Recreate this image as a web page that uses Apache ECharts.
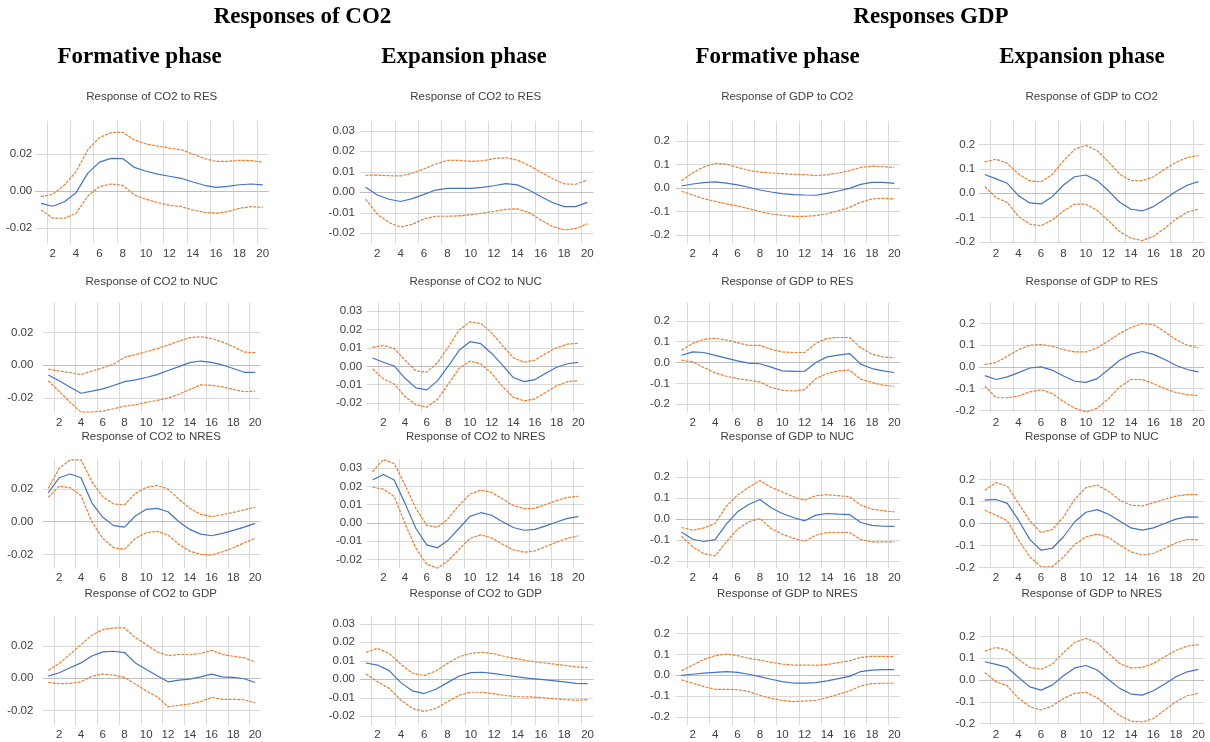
<!DOCTYPE html>
<html><head><meta charset="utf-8">
<script src="https://cdn.jsdelivr.net/npm/echarts@6/dist/echarts.min.js"></script>
<style>html,body{margin:0;padding:0;background:#fff}#c{width:1210px;height:742px}</style>
</head><body><div id="c"></div>
<script>
// ---------- DATA ----------
const periods = [1,2,3,4,5,6,7,8,9,10,11,12,13,14,15,16,17,18,19,20];
const xTickLabels = [2,4,6,8,10,12,14,16,18,20];
const co2TicksForm = [-0.02, 0, 0.02];
const co2TicksExp = [-0.02, -0.01, 0, 0.01, 0.02, 0.03];
const gdpTicks = [-0.2, -0.1, 0, 0.1, 0.2];

const headerTitles = ['Responses of CO2', 'Responses GDP'];
const phaseTitles = ['Formative phase', 'Expansion phase', 'Formative phase', 'Expansion phase'];

// Responses of CO2 - Formative phase
const co2Form_RES_mid = [-0.0067,-0.0083,-0.0058,-0.0009,0.0096,0.0157,0.0177,0.0176,0.0128,0.0107,0.0092,0.0080,0.0069,0.0049,0.0031,0.0020,0.0025,0.0034,0.0038,0.0033];
const co2Form_RES_hi  = [-0.0031,-0.0018,0.0033,0.0105,0.0223,0.0290,0.0317,0.0319,0.0277,0.0255,0.0244,0.0233,0.0224,0.0201,0.0176,0.0161,0.0161,0.0167,0.0165,0.0156];
const co2Form_RES_lo  = [-0.0103,-0.0147,-0.0148,-0.0121,-0.0027,0.0024,0.0038,0.0031,-0.0022,-0.0045,-0.0063,-0.0078,-0.0085,-0.0103,-0.0116,-0.0121,-0.0112,-0.0094,-0.0085,-0.0089];

const co2Form_NUC_mid = [-0.0059,-0.0095,-0.0134,-0.0171,-0.0158,-0.0144,-0.0124,-0.0100,-0.0089,-0.0075,-0.0057,-0.0032,-0.0008,0.0016,0.0026,0.0018,0.0002,-0.0020,-0.0043,-0.0043];
const co2Form_NUC_hi  = [-0.0024,-0.0035,-0.0045,-0.0057,-0.0035,-0.0016,0.0006,0.0049,0.0065,0.0083,0.0102,0.0124,0.0148,0.0169,0.0175,0.0164,0.0142,0.0114,0.0081,0.0077];
const co2Form_NUC_lo  = [-0.0095,-0.0160,-0.0227,-0.0286,-0.0286,-0.0280,-0.0266,-0.0250,-0.0242,-0.0227,-0.0215,-0.0201,-0.0177,-0.0148,-0.0120,-0.0122,-0.0132,-0.0148,-0.0162,-0.0158];

const co2Form_NRES_mid = [0.0178,0.0269,0.0292,0.0269,0.0116,0.0027,-0.0024,-0.0033,0.0035,0.0076,0.0082,0.0061,0.0000,-0.0047,-0.0076,-0.0086,-0.0071,-0.0053,-0.0033,-0.0010];
const co2Form_NRES_hi  = [0.0204,0.0327,0.0378,0.0378,0.0245,0.0153,0.0108,0.0104,0.0173,0.0210,0.0222,0.0200,0.0137,0.0082,0.0045,0.0031,0.0043,0.0057,0.0073,0.0088];
const co2Form_NRES_lo  = [0.0149,0.0218,0.0208,0.0159,0.0000,-0.0102,-0.0159,-0.0169,-0.0102,-0.0067,-0.0059,-0.0082,-0.0139,-0.0180,-0.0200,-0.0204,-0.0184,-0.0159,-0.0129,-0.0102];

const co2Form_GDP_mid = [0.0012,0.0033,0.0064,0.0094,0.0137,0.0162,0.0166,0.0158,0.0094,0.0053,0.0014,-0.0023,-0.0012,-0.0006,0.0008,0.0025,0.0008,0.0004,-0.0004,-0.0027];
const co2Form_GDP_hi  = [0.0049,0.0090,0.0148,0.0207,0.0265,0.0300,0.0310,0.0310,0.0250,0.0207,0.0162,0.0139,0.0146,0.0146,0.0152,0.0172,0.0146,0.0135,0.0125,0.0100];
const co2Form_GDP_lo  = [-0.0027,-0.0035,-0.0033,-0.0023,0.0012,0.0025,0.0018,0.0004,-0.0037,-0.0080,-0.0115,-0.0178,-0.0168,-0.0160,-0.0146,-0.0119,-0.0131,-0.0131,-0.0135,-0.0152];

// Responses of CO2 - Expansion phase
const co2Exp_RES_mid = [0.0024,-0.0013,-0.0034,-0.0045,-0.0031,-0.0010,0.0011,0.0019,0.0019,0.0019,0.0024,0.0032,0.0042,0.0036,0.0011,-0.0021,-0.0050,-0.0070,-0.0070,-0.0049];
const co2Exp_RES_hi  = [0.0083,0.0084,0.0081,0.0080,0.0093,0.0114,0.0138,0.0156,0.0156,0.0151,0.0154,0.0164,0.0169,0.0157,0.0131,0.0099,0.0067,0.0041,0.0039,0.0060];
const co2Exp_RES_lo  = [-0.0034,-0.0107,-0.0148,-0.0170,-0.0156,-0.0130,-0.0117,-0.0117,-0.0115,-0.0110,-0.0102,-0.0093,-0.0083,-0.0081,-0.0099,-0.0135,-0.0167,-0.0183,-0.0177,-0.0154];

const co2Exp_NUC_mid = [0.0045,0.0022,0.0002,-0.0065,-0.0117,-0.0128,-0.0079,0.0002,0.0087,0.0134,0.0123,0.0070,0.0007,-0.0061,-0.0083,-0.0072,-0.0038,-0.0005,0.0014,0.0022];
const co2Exp_NUC_hi  = [0.0103,0.0114,0.0097,0.0034,-0.0025,-0.0032,0.0020,0.0106,0.0197,0.0242,0.0233,0.0182,0.0112,0.0047,0.0022,0.0034,0.0070,0.0101,0.0121,0.0125];
const co2Exp_NUC_lo  = [-0.0013,-0.0069,-0.0096,-0.0164,-0.0209,-0.0222,-0.0179,-0.0096,-0.0011,0.0029,0.0013,-0.0038,-0.0110,-0.0168,-0.0188,-0.0177,-0.0141,-0.0106,-0.0083,-0.0078];

const co2Exp_NRES_mid = [0.0235,0.0265,0.0235,0.0107,-0.0029,-0.0120,-0.0136,-0.0093,-0.0029,0.0036,0.0056,0.0042,0.0007,-0.0025,-0.0040,-0.0035,-0.0016,0.0005,0.0025,0.0035];
const co2Exp_NRES_hi  = [0.0280,0.0347,0.0325,0.0207,0.0080,-0.0013,-0.0024,0.0025,0.0098,0.0158,0.0180,0.0167,0.0131,0.0095,0.0078,0.0080,0.0102,0.0122,0.0140,0.0145];
const co2Exp_NRES_lo  = [0.0195,0.0185,0.0144,-0.0002,-0.0138,-0.0225,-0.0247,-0.0205,-0.0144,-0.0084,-0.0065,-0.0082,-0.0116,-0.0147,-0.0160,-0.0153,-0.0129,-0.0105,-0.0084,-0.0071];

const co2Exp_GDP_mid = [0.0088,0.0077,0.0047,-0.0018,-0.0063,-0.0077,-0.0054,-0.0018,0.0018,0.0036,0.0038,0.0031,0.0022,0.0013,0.0005,0.0000,-0.0007,-0.0014,-0.0022,-0.0023];
const co2Exp_GDP_hi  = [0.0146,0.0167,0.0140,0.0081,0.0032,0.0020,0.0045,0.0086,0.0122,0.0140,0.0146,0.0137,0.0122,0.0110,0.0099,0.0090,0.0083,0.0076,0.0067,0.0063];
const co2Exp_GDP_lo  = [0.0029,-0.0013,-0.0049,-0.0112,-0.0158,-0.0174,-0.0158,-0.0121,-0.0086,-0.0070,-0.0070,-0.0079,-0.0088,-0.0094,-0.0095,-0.0099,-0.0104,-0.0110,-0.0113,-0.0110];

// Responses of GDP - Formative phase
const gdpForm_CO2_mid = [0.0085,0.017,0.023,0.026,0.021,0.013,0.003,-0.0085,-0.017,-0.024,-0.028,-0.030,-0.031,-0.023,-0.013,-0.0014,0.0157,0.024,0.024,0.020];
const gdpForm_CO2_hi  = [0.031,0.065,0.090,0.105,0.102,0.088,0.075,0.068,0.064,0.061,0.058,0.057,0.053,0.056,0.064,0.074,0.088,0.093,0.091,0.088];
const gdpForm_CO2_lo  = [-0.014,-0.030,-0.046,-0.057,-0.068,-0.077,-0.088,-0.101,-0.111,-0.117,-0.121,-0.121,-0.118,-0.110,-0.097,-0.083,-0.061,-0.047,-0.044,-0.047];

const gdpForm_RES_mid = [0.035,0.051,0.048,0.034,0.021,0.008,-0.003,-0.006,-0.022,-0.040,-0.043,-0.042,0.000,0.027,0.035,0.043,-0.008,-0.029,-0.040,-0.048];
const gdpForm_RES_hi  = [0.059,0.092,0.111,0.116,0.108,0.095,0.082,0.082,0.063,0.051,0.048,0.048,0.092,0.116,0.120,0.120,0.071,0.040,0.027,0.022];
const gdpForm_RES_lo  = [0.011,0.003,-0.024,-0.050,-0.066,-0.077,-0.085,-0.093,-0.120,-0.133,-0.137,-0.130,-0.077,-0.053,-0.040,-0.037,-0.080,-0.096,-0.109,-0.114];

const gdpForm_NUC_mid = [-0.061,-0.096,-0.107,-0.098,-0.024,0.035,0.070,0.094,0.054,0.027,0.008,-0.008,0.019,0.027,0.024,0.022,-0.016,-0.030,-0.034,-0.035];
const gdpForm_NUC_hi  = [-0.040,-0.053,-0.042,-0.021,0.062,0.115,0.152,0.184,0.152,0.130,0.107,0.090,0.112,0.117,0.112,0.107,0.067,0.048,0.040,0.035];
const gdpForm_NUC_lo  = [-0.082,-0.133,-0.165,-0.176,-0.109,-0.048,-0.013,0.003,-0.045,-0.072,-0.091,-0.106,-0.077,-0.064,-0.064,-0.064,-0.098,-0.109,-0.109,-0.109];

const gdpForm_NRES_mid = [0.000,0.005,0.010,0.014,0.018,0.014,0.005,-0.006,-0.019,-0.030,-0.037,-0.037,-0.035,-0.027,-0.016,-0.005,0.018,0.025,0.027,0.027];
const gdpForm_NRES_hi  = [0.022,0.049,0.076,0.094,0.102,0.094,0.081,0.073,0.062,0.054,0.049,0.049,0.048,0.051,0.061,0.069,0.086,0.091,0.091,0.089];
const gdpForm_NRES_lo  = [-0.022,-0.038,-0.054,-0.067,-0.067,-0.069,-0.078,-0.096,-0.110,-0.121,-0.126,-0.123,-0.120,-0.107,-0.091,-0.075,-0.051,-0.040,-0.038,-0.038];

// Responses of GDP - Expansion phase
const gdpExp_CO2_mid = [0.077,0.059,0.041,-0.010,-0.040,-0.044,-0.014,0.034,0.068,0.075,0.052,0.010,-0.037,-0.066,-0.073,-0.055,-0.025,0.007,0.033,0.048];
const gdpExp_CO2_hi  = [0.129,0.140,0.123,0.079,0.051,0.047,0.077,0.133,0.181,0.197,0.175,0.129,0.078,0.052,0.051,0.068,0.099,0.127,0.147,0.156];
const gdpExp_CO2_lo  = [0.027,-0.018,-0.038,-0.096,-0.127,-0.134,-0.110,-0.073,-0.045,-0.045,-0.071,-0.114,-0.158,-0.185,-0.195,-0.178,-0.144,-0.107,-0.078,-0.066];

const gdpExp_RES_mid = [-0.040,-0.058,-0.046,-0.026,-0.005,0.000,-0.015,-0.042,-0.066,-0.071,-0.054,-0.012,0.031,0.058,0.071,0.058,0.034,0.008,-0.012,-0.023];
const gdpExp_RES_hi  = [0.011,0.020,0.049,0.080,0.100,0.103,0.095,0.080,0.069,0.069,0.088,0.120,0.154,0.182,0.200,0.195,0.162,0.126,0.100,0.088];
const gdpExp_RES_lo  = [-0.089,-0.142,-0.142,-0.134,-0.115,-0.105,-0.123,-0.160,-0.190,-0.208,-0.190,-0.146,-0.092,-0.058,-0.058,-0.077,-0.100,-0.118,-0.128,-0.132];

const gdpExp_NUC_mid = [0.106,0.109,0.091,0.015,-0.072,-0.121,-0.112,-0.060,0.008,0.051,0.063,0.042,0.011,-0.020,-0.030,-0.020,0.000,0.020,0.030,0.029];
const gdpExp_NUC_hi  = [0.151,0.186,0.169,0.091,0.012,-0.041,-0.027,0.030,0.110,0.163,0.174,0.146,0.106,0.083,0.080,0.094,0.110,0.124,0.131,0.131];
const gdpExp_NUC_lo  = [0.060,0.038,0.012,-0.075,-0.151,-0.196,-0.196,-0.151,-0.095,-0.060,-0.048,-0.063,-0.098,-0.128,-0.143,-0.136,-0.113,-0.088,-0.072,-0.074];

const gdpExp_NRES_mid = [0.084,0.072,0.058,0.012,-0.031,-0.046,-0.023,0.020,0.056,0.067,0.046,0.003,-0.038,-0.064,-0.069,-0.049,-0.018,0.015,0.038,0.049];
const gdpExp_NRES_hi  = [0.133,0.150,0.137,0.095,0.058,0.049,0.073,0.127,0.173,0.191,0.171,0.122,0.076,0.056,0.058,0.076,0.107,0.137,0.156,0.163];
const gdpExp_NRES_lo  = [0.035,-0.008,-0.026,-0.084,-0.122,-0.137,-0.119,-0.084,-0.061,-0.056,-0.081,-0.122,-0.163,-0.188,-0.192,-0.176,-0.137,-0.099,-0.072,-0.061];

// ---------- PANELS (data + layout) ----------
const BLUE = '#4472C4', ORANGE = '#ED7D31', GRID = '#D9D9D9', ZERO = '#BFBFBF', TXT = '#404040';
const FONT = '"Liberation Sans", Arial, sans-serif';

const panels = [
  // column 1
  {t:'Response of CO2 to RES',  m:co2Form_RES_mid,  h:co2Form_RES_hi,  l:co2Form_RES_lo,  ticks:co2TicksForm, dec:2, g:[35.2,121,233.4,122.5], y:[-0.0285,0.038], lm:3, tx:151.7, ty:96.7},
  {t:'Response of CO2 to NUC',  m:co2Form_NUC_mid,  h:co2Form_NUC_hi,  l:co2Form_NUC_lo,  ticks:co2TicksForm, dec:2, g:[42.9,302.7,217.6,109.8], y:[-0.0289,0.0383], lm:9.5, tx:151.7, ty:281.7},
  {t:'Response of CO2 to NRES', m:co2Form_NRES_mid, h:co2Form_NRES_hi, l:co2Form_NRES_lo, ticks:co2TicksForm, dec:2, g:[42.9,459.3,217.6,109], y:[-0.0285,0.0382], lm:9.5, tx:151.2, ty:436.7},
  {t:'Response of CO2 to GDP',  m:co2Form_GDP_mid,  h:co2Form_GDP_hi,  l:co2Form_GDP_lo,  ticks:co2TicksForm, dec:2, g:[42.9,616,217.6,109], y:[-0.029,0.0384], lm:9.5, tx:150.7, ty:594},
  // column 2
  {t:'Response of CO2 to RES',  m:co2Exp_RES_mid,  h:co2Exp_RES_hi,  l:co2Exp_RES_lo,  ticks:co2TicksExp, dec:2, g:[359.8,121,233.4,122.5], y:[-0.025,0.0348], lm:5, tx:475.7, ty:96.7},
  {t:'Response of CO2 to NUC',  m:co2Exp_NUC_mid,  h:co2Exp_NUC_hi,  l:co2Exp_NUC_lo,  ticks:co2TicksExp, dec:2, g:[367.1,302.7,216.6,109.8], y:[-0.0251,0.0346], lm:5, tx:475.7, ty:281.7},
  {t:'Response of CO2 to NRES', m:co2Exp_NRES_mid, h:co2Exp_NRES_hi, l:co2Exp_NRES_lo, ticks:co2TicksExp, dec:2, g:[367.1,459.3,216.6,109], y:[-0.0248,0.0348], lm:5, tx:475.7, ty:436.7},
  {t:'Response of CO2 to GDP',  m:co2Exp_GDP_mid,  h:co2Exp_GDP_hi,  l:co2Exp_GDP_lo,  ticks:co2TicksExp, dec:2, g:[360,616,233.4,109], y:[-0.0247,0.0342], lm:5, tx:475.7, ty:594},
  // column 3
  {t:'Response of GDP to CO2',  m:gdpForm_CO2_mid,  h:gdpForm_CO2_hi,  l:gdpForm_CO2_lo,  ticks:gdpTicks, dec:1, g:[675.9,121,224,122.5], y:[-0.237,0.286], lm:6, tx:787.3, ty:96.7},
  {t:'Response of GDP to RES',  m:gdpForm_RES_mid,  h:gdpForm_RES_hi,  l:gdpForm_RES_lo,  ticks:gdpTicks, dec:1, g:[675.9,302.7,224,109.8], y:[-0.24,0.287], lm:6, tx:787.3, ty:281.7},
  {t:'Response of GDP to NUC',  m:gdpForm_NUC_mid,  h:gdpForm_NUC_hi,  l:gdpForm_NUC_lo,  ticks:gdpTicks, dec:1, g:[675.9,459.3,224,109], y:[-0.235,0.286], lm:6, tx:787.3, ty:436.7},
  {t:'Response of GDP to NRES', m:gdpForm_NRES_mid, h:gdpForm_NRES_hi, l:gdpForm_NRES_lo, ticks:gdpTicks, dec:1, g:[675.9,616,224,109], y:[-0.238,0.284], lm:6, tx:787.3, ty:594},
  // column 4
  {t:'Response of GDP to CO2',  m:gdpExp_CO2_mid,  h:gdpExp_CO2_hi,  l:gdpExp_CO2_lo,  ticks:gdpTicks, dec:1, g:[979.2,121,224.8,122.5], y:[-0.207,0.2975], lm:4, tx:1091.7, ty:96.7},
  {t:'Response of GDP to RES',  m:gdpExp_RES_mid,  h:gdpExp_RES_hi,  l:gdpExp_RES_lo,  ticks:gdpTicks, dec:1, g:[979.2,302.7,224.8,109.8], y:[-0.21,0.296], lm:4, tx:1091.7, ty:281.7},
  {t:'Response of GDP to NUC',  m:gdpExp_NUC_mid,  h:gdpExp_NUC_hi,  l:gdpExp_NUC_lo,  ticks:gdpTicks, dec:1, g:[979.2,459.3,224.8,109], y:[-0.203,0.291], lm:4, tx:1091.7, ty:436.7},
  {t:'Response of GDP to NRES', m:gdpExp_NRES_mid, h:gdpExp_NRES_hi, l:gdpExp_NRES_lo, ticks:gdpTicks, dec:1, g:[979.2,616,224.8,109], y:[-0.206,0.294], lm:4, tx:1091.7, ty:594}
];

const grids = [], xAxes = [], yAxes = [], series = [], graphics = [];
const toPairs = arr => periods.map((p, k) => [p, arr[k]]);

panels.forEach((p, i) => {
  grids.push({left:p.g[0], top:p.g[1], width:p.g[2], height:p.g[3], containLabel:false, show:false});
  xAxes.push({
    type:'value', gridIndex:i, min:0.5, max:20.5,
    axisLine:{show:false},
    axisTick:{show:false, customValues: xTickLabels.map(v => v - 0.5)},
    axisLabel:{customValues: xTickLabels, color:TXT, fontSize:11.5, fontFamily:FONT, margin:4, formatter: v => String(Math.round(v))},
    splitLine:{show:true, lineStyle:{color:GRID, width:1}}
  });
  yAxes.push({
    type:'value', gridIndex:i, min:p.y[0], max:p.y[1],
    axisLine:{show:false},
    axisTick:{show:false, customValues: p.ticks},
    axisLabel:{customValues: p.ticks, color:TXT, fontSize:11.5, fontFamily:FONT, margin:p.lm, formatter: v => v.toFixed(p.dec)},
    splitLine:{show:true, lineStyle:{color:GRID, width:1}}
  });
  const base = {type:'line', xAxisIndex:i, yAxisIndex:i, symbol:'none', showSymbol:false, animation:false, silent:true};
  const dash = {color:ORANGE, width:1.2, type:[3,1.2]};
  series.push(Object.assign({}, base, {
    data: toPairs(p.l), lineStyle:dash, z:3,
    markLine:{silent:true, symbol:['none','none'], label:{show:false}, animation:false,
      lineStyle:{color:ZERO, width:1.2, type:'solid'}, data:[{yAxis:0}], z:2}
  }));
  series.push(Object.assign({}, base, {data: toPairs(p.h), lineStyle:dash, z:3}));
  series.push(Object.assign({}, base, {data: toPairs(p.m), lineStyle:{color:BLUE, width:1.2, type:'solid'}, z:4}));
  graphics.push({type:'text', x:p.tx, y:p.ty, silent:true, style:{text:p.t, font:'11.5px ' + FONT, fill:TXT, align:'center', verticalAlign:'middle', textAlign:'center', textVerticalAlign:'middle'}});
});

const HFONT = 'bold 23px "Liberation Serif", "Times New Roman", serif';
[[headerTitles[0], 302.5, 17], [headerTitles[1], 931, 17],
 [phaseTitles[0], 139.5, 57], [phaseTitles[1], 464, 57], [phaseTitles[2], 777.5, 57], [phaseTitles[3], 1082, 57]
].forEach(h => graphics.push({type:'text', x:h[1], y:h[2], silent:true,
  style:{text:h[0], font:HFONT, fill:'#000', align:'center', verticalAlign:'middle', textAlign:'center', textVerticalAlign:'middle'}}));

const chart = echarts.init(document.getElementById('c'), null, {renderer:'canvas'});
chart.setOption({
  backgroundColor:'#fff', animation:false,
  grid:grids, xAxis:xAxes, yAxis:yAxes, series:series, graphic:graphics
});
</script></body></html>
